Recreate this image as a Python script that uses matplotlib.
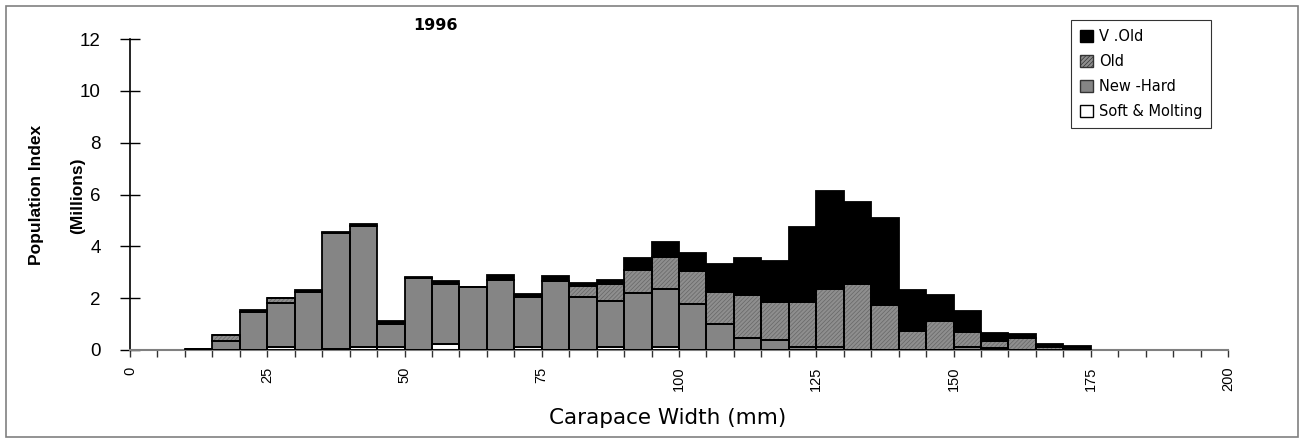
import matplotlib
matplotlib.use("Agg")
import matplotlib.pyplot as plt
from matplotlib.patches import Patch, Rectangle
import numpy as np

plt.rcParams['font.family'] = ['Liberation Sans', 'DejaVu Sans']
plt.rcParams['hatch.linewidth'] = 0.5

# Bin left edges (mm), 5 mm wide
bin_left = [10, 15, 20, 25, 30, 35, 40, 45, 50, 55, 60, 65, 70, 75, 80, 85,
            90, 95, 100, 105, 110, 115, 120, 125, 130, 135, 140, 145, 150,
            155, 160, 165, 170]
bin_width = 5

soft = [0, 0, 0, 0.12, 0, 0.05, 0.12, 0.12, 0, 0.25, 0, 0, 0.12, 0, 0, 0.12,
        0, 0.12, 0, 0, 0, 0, 0, 0, 0, 0, 0, 0, 0, 0, 0, 0, 0]
new_hard = [0.05, 0.36, 1.45, 1.70, 2.25, 4.45, 4.65, 0.90, 2.78, 2.30, 2.42,
            2.69, 1.92, 2.65, 2.05, 1.78, 2.20, 2.24, 1.78, 1.00, 0.47, 0.38,
            0.12, 0.10, 0, 0, 0, 0, 0.10, 0.06, 0, 0, 0]
old = [0, 0.20, 0, 0.17, 0, 0, 0, 0, 0, 0, 0, 0, 0, 0, 0.41, 0.64, 0.88,
       1.23, 1.28, 1.22, 1.65, 1.48, 1.74, 2.27, 2.53, 1.73, 0.74, 1.13,
       0.60, 0.30, 0.45, 0.10, 0]
v_old = [0, 0.02, 0.08, 0.02, 0.08, 0.04, 0.10, 0.10, 0.02, 0.10, 0, 0.22,
         0.12, 0.21, 0.13, 0.18, 0.47, 0.58, 0.70, 1.11, 1.43, 1.59, 2.90,
         3.77, 3.17, 3.35, 1.56, 1.01, 0.80, 0.28, 0.15, 0.14, 0.17]

series_labels = ['V .Old', 'Old', 'New -Hard', 'Soft & Molting']
x_ticks = [0, 25, 50, 75, 100, 125, 150, 175, 200]
y_ticks = [0, 2, 4, 6, 8, 10, 12]

C_NEW = '#858585'
C_OLD = '#8e8e8e'
H_OLD = '////////'
HC_OLD = '#666666'
SANS = ['Liberation Sans', 'DejaVu Sans']
WIDE = ['DejaVu Sans']

W, H = 1304, 443
fig = plt.figure(figsize=(W / 100, H / 100), dpi=100)
ax = fig.add_axes([130 / W, 93 / H, (1228 - 130) / W, (350 - 39) / H])

x = np.array(bin_left, dtype=float)
layers = [
    (np.array(soft), 'white', None),
    (np.array(new_hard), C_NEW, None),
    (np.array(old), C_OLD, H_OLD),
    (np.array(v_old), 'black', None),
]
bottom = np.zeros_like(x)
for vals, col, hatch in layers:
    if hatch:
        ax.bar(x, vals, width=bin_width, bottom=bottom, align='edge',
               facecolor=col, edgecolor=HC_OLD, hatch=hatch,
               linewidth=0, zorder=2)
    else:
        ax.bar(x, vals, width=bin_width, bottom=bottom, align='edge',
               facecolor=col, linewidth=0, zorder=2)
    ax.bar(x, vals, width=bin_width, bottom=bottom, align='edge',
           fill=False, edgecolor='black', linewidth=1.3, zorder=3)
    bottom = bottom + vals

ax.set_xlim(0, 200)
ax.set_ylim(0, 12)
ax.set_xticks(x_ticks)
ax.set_xticks(np.arange(0, 201, 5), minor=True)
ax.set_xticklabels([str(v) for v in x_ticks], rotation=90, fontsize=10.5,
                   family=SANS)
ax.set_yticks(y_ticks)
ax.set_yticklabels([str(v) for v in y_ticks], fontsize=13.5, family=SANS)
ax.tick_params(axis='y', direction='inout', length=14, width=1, pad=14)
ax.tick_params(axis='x', which='both', direction='out', length=5, width=1,
               color='#333333', pad=7)
for s in ['top', 'right']:
    ax.spines[s].set_visible(False)
ax.spines['left'].set_linewidth(1.2)
ax.spines['bottom'].set_color('#808080')
ax.spines['bottom'].set_linewidth(1.5)

ax.set_xlabel('Carapace Width (mm)', fontsize=15.5, family=WIDE)
ax.xaxis.set_label_coords((668 - 130) / (1228 - 130), -(418 - 350) / (350 - 39))
ax.xaxis.label.set_va('center')
fig.text(37 / W, 1 - 195 / H, 'Population Index', rotation=90, fontsize=12.5,
         fontweight='bold', ha='center', va='center', family=SANS)
fig.text(78 / W, 1 - 196 / H, '(Millions)', rotation=90, fontsize=12.5,
         fontweight='bold', ha='center', va='center', family=SANS)
fig.text(435 / W, 1 - 25 / H, '1996', fontsize=11.5, fontweight='bold',
         ha='center', va='center', family=WIDE)

handles = [
    Patch(facecolor='black', edgecolor='black', label=series_labels[0]),
    Patch(facecolor=C_OLD, edgecolor='#333333', hatch=H_OLD, label=series_labels[1]),
    Patch(facecolor=C_NEW, edgecolor='#333333', label=series_labels[2]),
    Patch(facecolor='white', edgecolor='black', label=series_labels[3]),
]
leg = fig.legend(handles=handles, loc='upper left',
                 bbox_to_anchor=(1071 / W, 1 - 20 / H),
                 bbox_transform=fig.transFigure,
                 prop={'family': WIDE, 'size': 10.5},
                 frameon=True, fancybox=False, shadow=False,
                 handlelength=0.9, handleheight=0.9, handletextpad=0.4,
                 labelspacing=0.7, borderpad=0.6, borderaxespad=0)
leg.get_frame().set_edgecolor('black')
leg.get_frame().set_linewidth(0.8)

fig.patches.append(Rectangle((6 / W, 6 / H), (1298 - 6) / W, (437 - 6) / H,
                             transform=fig.transFigure, fill=False,
                             edgecolor='#808080', linewidth=1.2))

fig.savefig('out.png', dpi=100)
